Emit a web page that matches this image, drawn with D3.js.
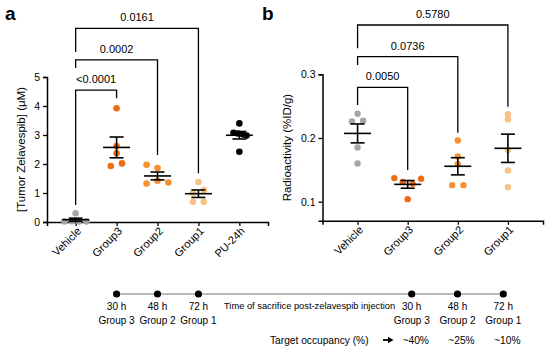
<!DOCTYPE html>
<html>
<head>
<meta charset="utf-8">
<script src="https://cdn.jsdelivr.net/npm/d3@7"></script>
<style>
  body { margin: 0; background: #fff; }
  svg { display: block; font-family: "Liberation Sans", Arial, sans-serif; }
</style>
</head>
<body>
<svg id="chart" width="550" height="352"></svg>
<script>
// ---- data ----
// panel a: tumour zelavespib (uM)
const groupsA = ["Vehicle", "Group3", "Group2", "Group1", "PU-24h"];
const tumorVehicle = [0.3, 0.02, 0.03, 0.02, 0.02];
const tumorGroup3 = [3.92, 2.62, 2.37, 1.93, 2.02];
const tumorGroup2 = [1.97, 1.86, 1.33, 1.42, 1.36];
const tumorGroup1 = [1.38, 1.0, 1.1, 0.7, 0.7];
const tumorPU24 = [3.40, 3.08, 3.05, 3.02, 2.98, 2.42];
const ticksA = [0, 1, 2, 3, 4, 5];
const pTargetsA = ["Group3", "Group2", "Group1"];
const pLabelsA = ["<0.0001", "0.0002", "0.0161"];

// panel b: radioactivity (%ID/g)
const groupsB = ["Vehicle", "Group3", "Group2", "Group1"];
const radVehicle = [0.238, 0.226, 0.227, 0.185, 0.160];
const radGroup3 = [0.137, 0.131, 0.128, 0.136, 0.104];
const radGroup2 = [0.196, 0.171, 0.159, 0.126, 0.126];
const radGroup1 = [0.2375, 0.229, 0.181, 0.149, 0.1226];
const ticksB = [0.1, 0.2, 0.3];
const pTargetsB = ["Group3", "Group2", "Group1"];
const pLabelsB = ["0.0050", "0.0736", "0.5780"];

// timeline below the plots
const timeGroups = ["Group3", "Group2", "Group1"];
const timeHours = ["30 h", "48 h", "72 h"];
const timeNames = ["Group 3", "Group 2", "Group 1"];
const occupancy = ["~40%", "~25%", "~10%"];

const groupColors = { "Vehicle": "#a6a6a6", "Group3": "#f06b15", "Group2": "#f4912c", "Group1": "#f8c185", "PU-24h": "#000" };

// column offsets of the scatter dots (in dot widths)
const jitterA = {
  "Vehicle": [0, -1.55, -0.5, 0.45, 1.5],
  "Group3": [0, 0, 0, -0.8, 0.75],
  "Group2": [-1.5, 0, -1.5, 0, 1.5],
  "Group1": [0, -0.75, 0.75, -0.75, 0.75],
  "PU-24h": [0, -0.8, -0.2, 0.5, 1.0, 0]
};
const jitterB = {
  "Vehicle": [0, -0.8, 0.8, 0, 0],
  "Group3": [-1.9, -0.7, 0.7, 1.9, 0],
  "Group2": [0, 0, 0, -0.8, 0.8],
  "Group1": [0, 0, 0, 0, 0]
};

const seriesA = [
  { name: "Vehicle", values: tumorVehicle },
  { name: "Group3", values: tumorGroup3 },
  { name: "Group2", values: tumorGroup2 },
  { name: "Group1", values: tumorGroup1 },
  { name: "PU-24h", values: tumorPU24 }
];
const seriesB = [
  { name: "Vehicle", values: radVehicle },
  { name: "Group3", values: radGroup3 },
  { name: "Group2", values: radGroup2 },
  { name: "Group1", values: radGroup1 }
];

const svg = d3.select("#chart");

function drawPanel(opts) {
  const g = svg.append("g");
  const x = d3.scalePoint().domain(opts.groups).range([opts.left, opts.right]).padding(0.7);
  const y = d3.scaleLinear().domain(opts.domain).range([opts.bottom, opts.top]);

  // axes
  const yAxis = g.append("g")
    .attr("transform", `translate(${opts.left},0)`)
    .call(d3.axisLeft(y).tickValues(opts.ticks).tickSizeOuter(0).tickSize(4).tickPadding(3).tickFormat(opts.fmt));
  const xAxis = g.append("g")
    .attr("transform", `translate(0,${opts.bottom})`)
    .call(d3.axisBottom(x).tickSizeOuter(0).tickSize(4));
  [yAxis, xAxis].forEach(a => {
    a.select(".domain").attr("stroke-width", 1.5);
    a.selectAll(".tick line").attr("stroke-width", 1.3);
    a.selectAll("text").attr("font-size", 10.5).attr("fill", "#000")
      .attr("font-family", "'Liberation Sans', Arial, sans-serif");
  });
  xAxis.selectAll(".tick text")
    .attr("text-anchor", "end")
    .attr("dy", "0.35em")
    .attr("transform", "translate(3,7) rotate(-45)")
    .attr("x", 0).attr("y", 0)
    .attr("font-size", 11);

  g.append("text")
    .attr("transform", `translate(${opts.titleX},${(opts.top + opts.bottom) / 2}) rotate(-90)`)
    .attr("text-anchor", "middle")
    .attr("font-size", 11.5)
    .text(opts.title);

  // dots
  opts.series.forEach(s => {
    g.selectAll(null).data(s.values).enter().append("circle")
      .attr("cx", (d, i) => x(s.name) + opts.jitter[s.name][i] * opts.r * 2.2)
      .attr("cy", d => y(d))
      .attr("r", opts.r)
      .attr("fill", groupColors[s.name]);
  });

  // mean +/- SEM
  opts.series.forEach(s => {
    const m = d3.mean(s.values);
    const sem = d3.deviation(s.values) / Math.sqrt(s.values.length);
    const cx = x(s.name);
    const eb = g.append("g").attr("stroke", "#000").attr("stroke-width", 1.6);
    eb.append("line").attr("x1", cx - 13.5).attr("x2", cx + 13.5).attr("y1", y(m)).attr("y2", y(m));
    eb.append("line").attr("x1", cx).attr("x2", cx).attr("y1", y(m - sem)).attr("y2", y(m + sem));
    [m - sem, m + sem].forEach(v => {
      eb.append("line").attr("x1", cx - 7).attr("x2", cx + 7).attr("y1", y(v)).attr("y2", y(v));
    });
  });

  // significance brackets
  opts.targets.forEach((t, i) => {
    const b = opts.brackets[i];
    const x1 = x(opts.groups[0]), x2 = x(t);
    g.append("path")
      .attr("d", `M${x1},${y(b[1])}V${y(b[0])}H${x2}V${y(b[2])}`)
      .attr("fill", "none").attr("stroke", "#000").attr("stroke-width", 1.3);
    g.append("text")
      .attr("x", (x1 + x2) / 2).attr("y", y(b[0]) - 7)
      .attr("text-anchor", "middle").attr("font-size", 11)
      .text(opts.labels[i]);
  });

  svg.append("text").attr("x", opts.tagX).attr("y", 20)
    .attr("font-size", 19).attr("font-weight", "bold").text(opts.tag);
  return x;
}

// bracket layout: [top, left leg end, right leg end] in data units
const xA = drawPanel({
  groups: groupsA, series: seriesA, jitter: jitterA, ticks: ticksA,
  domain: [0, 5], left: 47, right: 268, top: 77, bottom: 222, r: 3.3,
  fmt: d3.format("d"), title: "[Tumor Zelavespib] (\u03bcM)", titleX: 25,
  targets: pTargetsA, labels: pLabelsA,
  brackets: [[4.55, 0.59, 4.27], [5.59, 5.31, 2.31], [6.68, 5.86, 1.68]],
  tag: "a", tagX: 5
});

drawPanel({
  groups: groupsB, series: seriesB, jitter: jitterB, ticks: ticksB,
  domain: [0.07, 0.3], left: 322.5, right: 543, top: 74.3, bottom: 220.8, r: 3.2,
  fmt: d3.format(".1f"), title: "Radioactivity (%ID/g)", titleX: 291,
  targets: pTargetsB, labels: pLabelsB,
  brackets: [[0.2796, 0.2518, 0.1498], [0.3277, 0.3146, 0.2083], [0.3774, 0.3408, 0.2491]],
  tag: "b", tagX: 262
});

// ---- timeline ----
const xT = d3.scalePoint().domain(timeGroups).range([411.7, 503.3]);
const tl = svg.append("g");
const lineY = 294;
tl.append("line")
  .attr("x1", xA("Group3")).attr("x2", xT("Group1"))
  .attr("y1", lineY).attr("y2", lineY)
  .attr("stroke", "#555").attr("stroke-width", 0.8);

[xA, xT].forEach(sc => {
  timeGroups.forEach((gname, i) => {
    const cx = sc(gname);
    tl.append("circle").attr("cx", cx).attr("cy", lineY).attr("r", 3.6).attr("fill", "#000");
    tl.append("text").attr("x", cx).attr("y", lineY + 16)
      .attr("text-anchor", "middle").attr("font-size", 10).text(timeHours[i]);
    tl.append("text").attr("x", cx).attr("y", lineY + 30)
      .attr("text-anchor", "middle").attr("font-size", 10).text(timeNames[i]);
  });
});

tl.append("text").attr("x", 224).attr("y", lineY + 14.5)
  .attr("font-size", 9.3).text("Time of sacrifice post-zelavespib injection");

tl.append("text").attr("x", 270).attr("y", 343.5)
  .attr("font-size", 10.2).text("Target occupancy (%)");
tl.append("line").attr("x1", 383).attr("x2", 389).attr("y1", 340).attr("y2", 340)
  .attr("stroke", "#000").attr("stroke-width", 1.8);
tl.append("path").attr("d", "M388,336.8L393.5,340L388,343.2Z").attr("fill", "#000");
timeGroups.forEach((gname, i) => {
  tl.append("text").attr("x", xT(gname) + 4).attr("y", 343.5)
    .attr("text-anchor", "middle").attr("font-size", 10.2).text(occupancy[i]);
});
</script>
</body>
</html>
